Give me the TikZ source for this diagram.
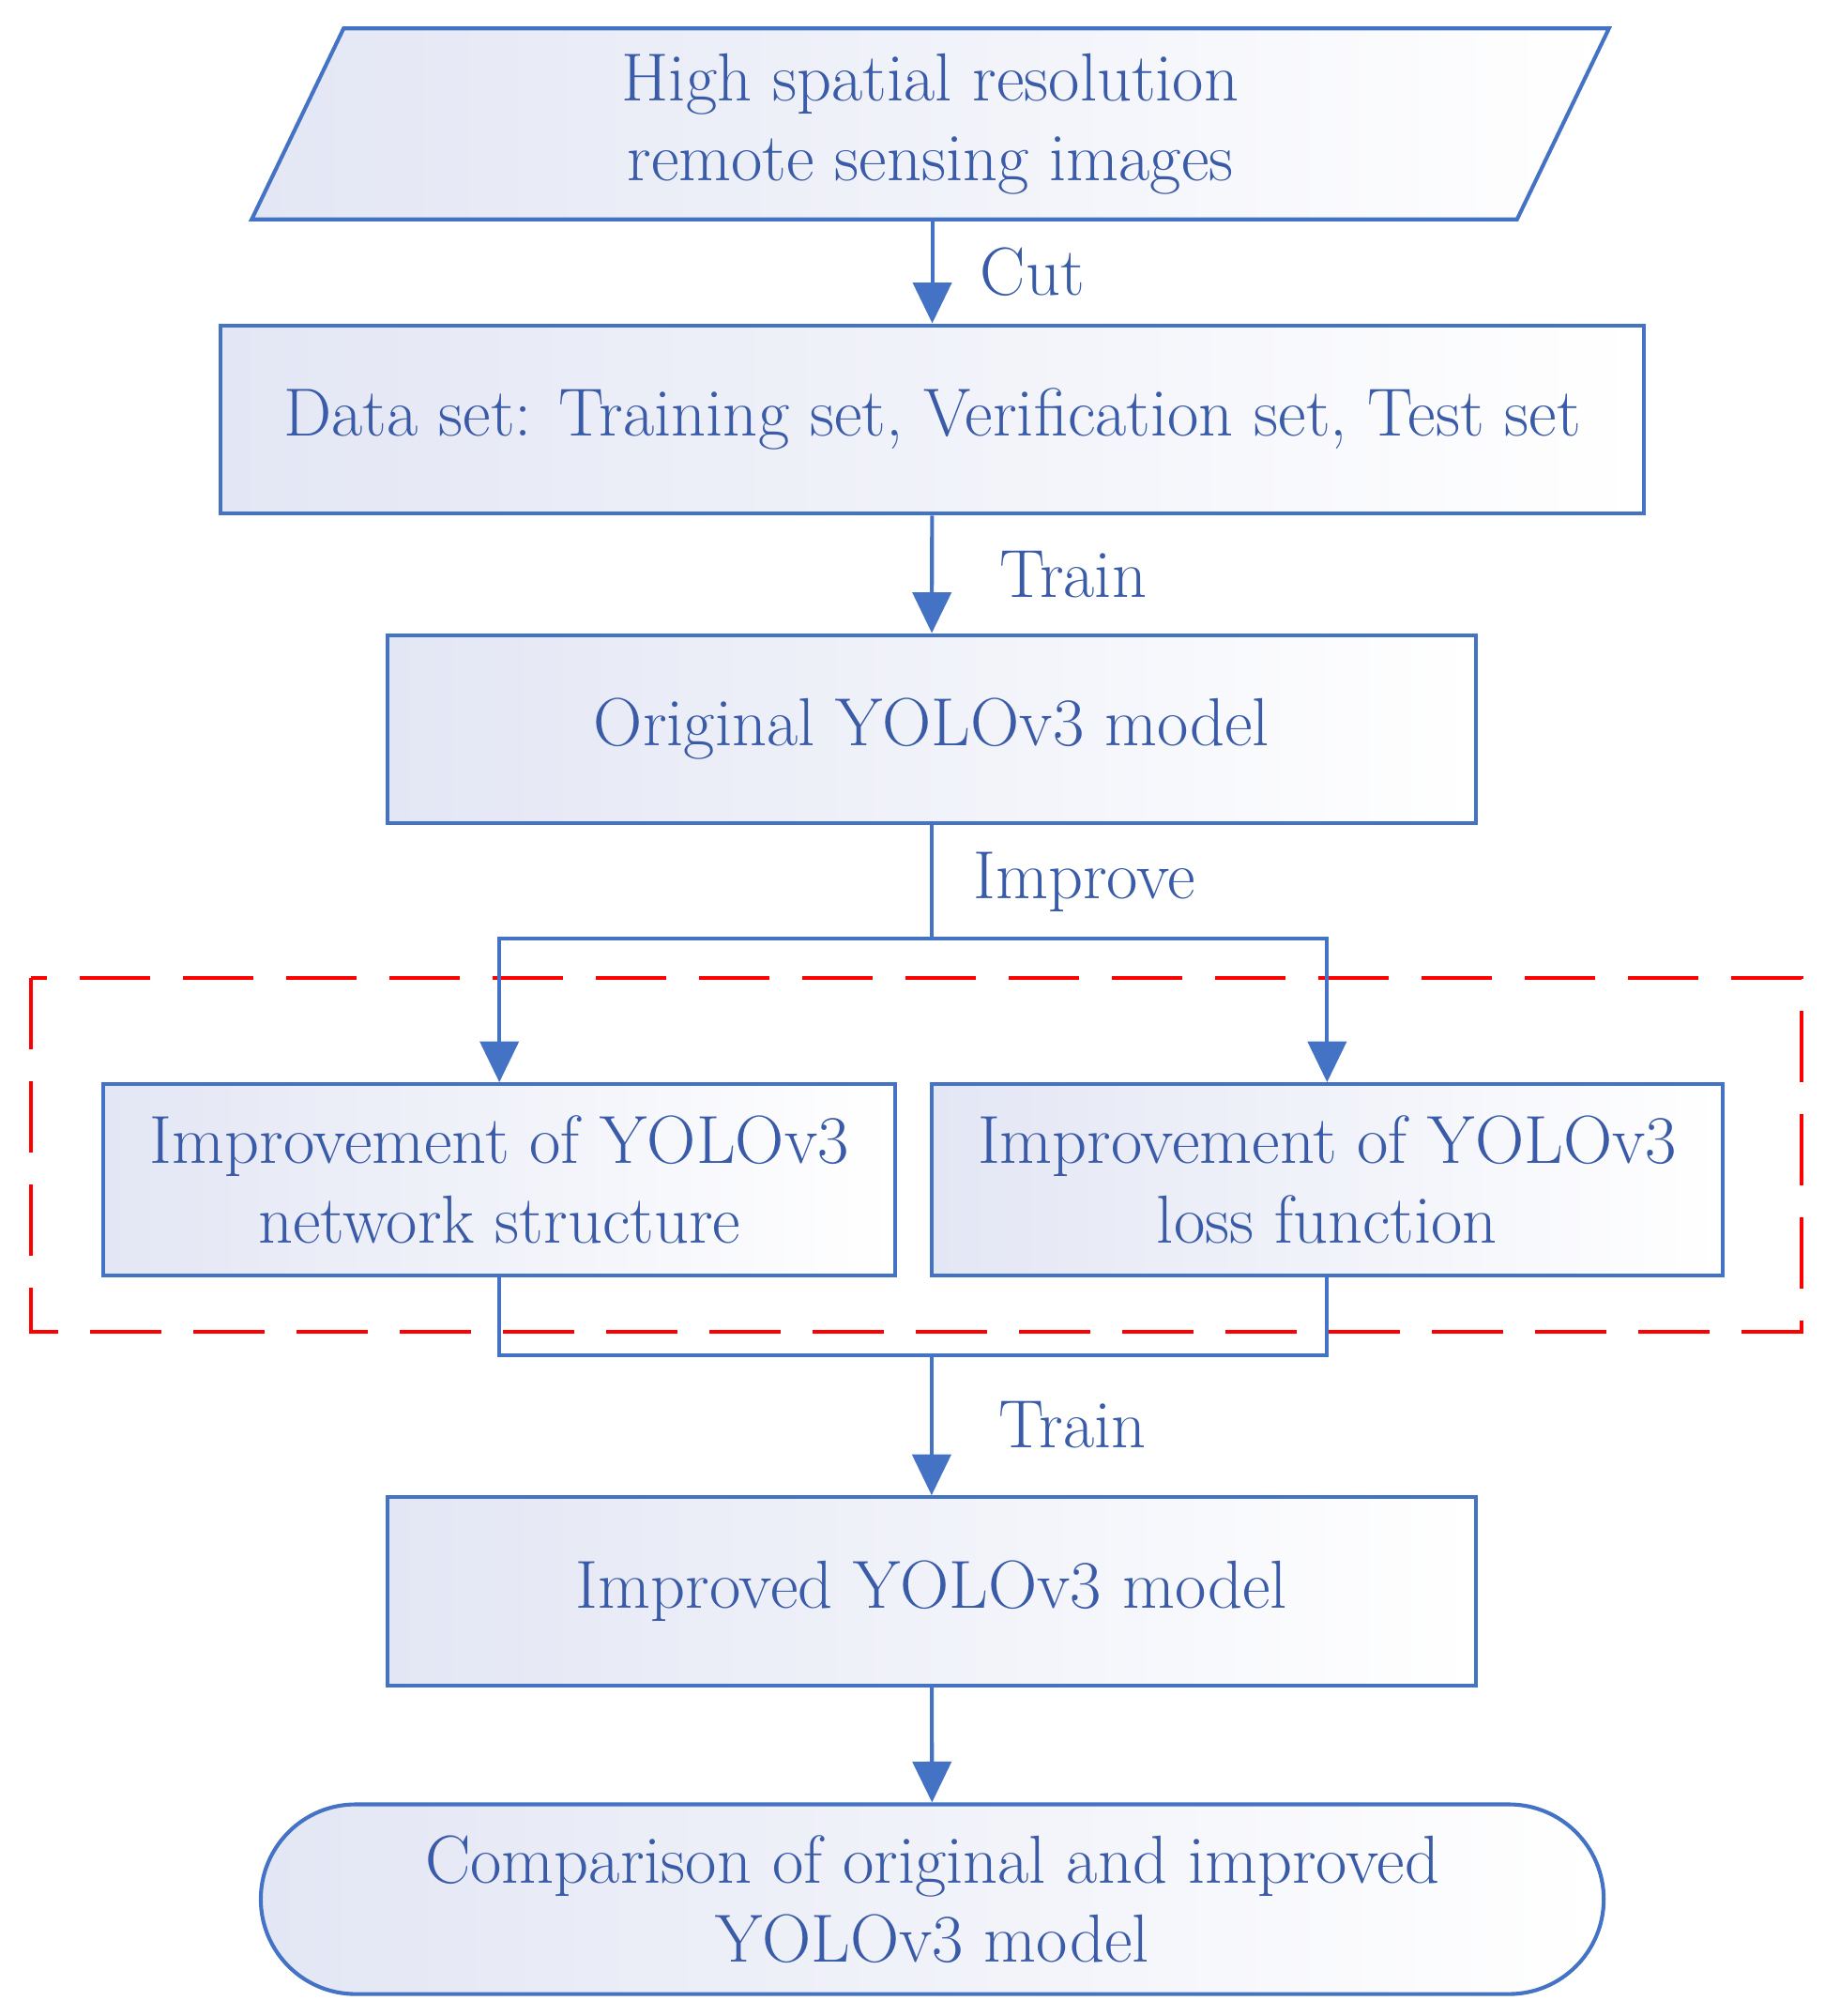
\documentclass[tikz,border=0pt]{standalone}
\usetikzlibrary{arrows.meta,shapes.geometric,shapes.misc}
\definecolor{edge}{HTML}{4472C4}
\definecolor{txt}{HTML}{3A5BA8}
\definecolor{lav}{HTML}{E3E6F4}
\begin{document}
\begin{tikzpicture}[x=0.02cm,y=-0.02cm,
  font=\fontsize{30}{35}\selectfont,
  box/.style={draw=edge,line width=1.7pt,left color=lav,right color=white,
    text=txt,align=center,inner sep=0pt},
  arr/.style={draw=edge,line width=1.7pt,-{Triangle[width=17pt,length=18pt]}},
  ln/.style={draw=edge,line width=1.7pt},
  lbl/.style={text=txt,anchor=west}]
\useasboundingbox (0,0) rectangle (1414,1562);
\node[box,trapezium,trapezium stretches=true,trapezium left angle=71,
  trapezium right angle=109,minimum width=21.06cm,minimum height=2.96cm]
  (img) at (721,96) {High spatial resolution\\remote sensing images};
\node[box,minimum width=22.06cm,minimum height=2.92cm] (data) at (722.5,325)
  {Data set: Training set, Verification set, Test set};
\node[box,minimum width=16.88cm,minimum height=2.92cm] (orig) at (722,565)
  {Original YOLOv3 model};
\node[box,minimum width=12.28cm,minimum height=2.96cm] (net) at (387,914)
  {Improvement of YOLOv3\\network structure};
\node[box,minimum width=12.26cm,minimum height=2.96cm] (loss) at (1028.5,914)
  {Improvement of YOLOv3\\loss function};
\node[box,minimum width=16.88cm,minimum height=2.92cm] (impr) at (722,1233)
  {Improved YOLOv3 model};
\node[box,rounded rectangle,minimum width=20.82cm,minimum height=2.94cm]
  (cmp) at (722.5,1471.5) {Comparison of original and improved\\YOLOv3 model};
\draw[red,line width=1.7pt,dash pattern=on 1.1cm off 0.5cm] (24,758) rectangle (1396,1032);
\coordinate (split) at (722,727);
\coordinate (join) at (722,1050);
\draw[arr] (img.south -| data.north) -- (data.north) node[lbl,midway,xshift=0.6cm] {Cut};
\draw[arr] (data) -- (orig) node[lbl,midway,xshift=0.9cm] {Train};
\draw[ln] (orig) -- (split) node[lbl,midway,xshift=0.5cm] {Improve};
\draw[arr] (split) -| (net);
\draw[arr] (split) -| (loss);
\draw[ln] (net) |- (join);
\draw[ln] (loss) |- (join);
\draw[arr] (join) -- (impr) node[lbl,midway,xshift=0.9cm] {Train};
\draw[arr] (impr) -- (cmp);
\end{tikzpicture}
\end{document}
